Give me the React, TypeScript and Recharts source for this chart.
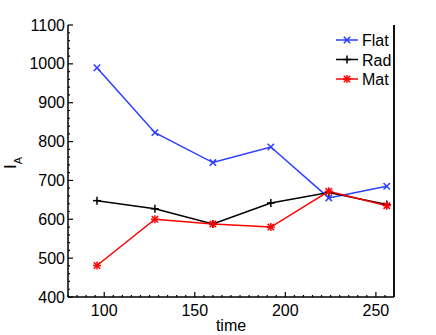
import { LineChart, Line, XAxis, YAxis, ReferenceLine } from "recharts";

const times = [96, 128, 160, 192, 224, 256];
const flat = [990, 823, 746, 786, 655, 685];
const rad = [648, 627, 588, 642, 669, 638];
const mat = [481, 600, 588, 580, 672, 635];

const xTicks: number[] = [];
for (let v = 80; v <= 260; v += 5) xTicks.push(v);
const yTicks: number[] = [];
for (let v = 400; v <= 1100; v += 20) yTicks.push(v);

const data = times.map((t, i) => ({ time: t, flat: flat[i], rad: rad[i], mat: mat[i] }));

const FONT = "'Liberation Sans', Arial, Helvetica, sans-serif";
const BLUE = "#2b3dff";
const RED = "#ff0000";
const BLACK = "#000000";

const series = [
  { key: "flat", name: "Flat", color: BLUE, marker: "x" },
  { key: "rad", name: "Rad", color: BLACK, marker: "+" },
  { key: "mat", name: "Mat", color: RED, marker: "*" },
];

const Marker = ({ cx, cy, color, kind }: any) => {
  if (cx == null || cy == null) return null;
  const s = 4;
  const d = 3.2;
  const cross = (
    <>
      <line x1={cx - d} y1={cy - d} x2={cx + d} y2={cy + d} stroke={color} strokeWidth={1.5} />
      <line x1={cx - d} y1={cy + d} x2={cx + d} y2={cy - d} stroke={color} strokeWidth={1.5} />
    </>
  );
  const plus = (
    <>
      <line x1={cx - s} y1={cy} x2={cx + s} y2={cy} stroke={color} strokeWidth={1.5} />
      <line x1={cx} y1={cy - s} x2={cx} y2={cy + s} stroke={color} strokeWidth={1.5} />
    </>
  );
  return (
    <g>
      {kind === "x" && cross}
      {kind === "+" && plus}
      {kind === "*" && (
        <>
          {cross}
          {plus}
        </>
      )}
    </g>
  );
};

const LeftTick = ({ x, y, payload }: any) => {
  const major = payload.value % 100 === 0;
  return (
    <g>
      <line x1={x} y1={y} x2={x + (major ? 5 : 2)} y2={y} stroke={BLACK} strokeWidth={1.2} />
      {major && (
        <text x={x - 3} y={y} dy={5.5} textAnchor="end" fontSize={16} fill={BLACK} fontFamily={FONT}>
          {payload.value}
        </text>
      )}
    </g>
  );
};

const RightTick = ({ x, y, payload }: any) => {
  const major = payload.value % 100 === 0;
  return <line x1={x} y1={y} x2={x - (major ? 5 : 2)} y2={y} stroke={BLACK} strokeWidth={1.2} />;
};

const BottomTick = ({ x, y, payload }: any) => {
  const major = payload.value % 50 === 0;
  return (
    <g>
      <line x1={x} y1={y} x2={x} y2={y - (major ? 5 : 2)} stroke={BLACK} strokeWidth={1.2} />
      {major && (
        <text x={x} y={y + 19} textAnchor="middle" fontSize={16} fill={BLACK} fontFamily={FONT}>
          {payload.value}
        </text>
      )}
    </g>
  );
};

const TopTick = ({ x, y, payload }: any) => {
  const major = payload.value % 50 === 0;
  return <line x1={x} y1={y} x2={x} y2={y + (major ? 5 : 2)} stroke={BLACK} strokeWidth={1.2} />;
};

const LegendBox = () => (
  <svg width={80} height={60} style={{ position: "absolute", left: 335, top: 31 }}>
    {series.map((s, i) => {
      const cy = 9 + i * 19.5;
      return (
        <g key={s.key}>
          <line x1={1} y1={cy} x2={23} y2={cy} stroke={s.color} strokeWidth={1.5} />
          <Marker cx={12} cy={cy} color={s.color} kind={s.marker} />
          <text x={27} y={cy + 6} fontSize={16} fill={BLACK} fontFamily={FONT}>
            {s.name}
          </text>
        </g>
      );
    })}
  </svg>
);

export default function App() {
  return (
    <div style={{ position: "absolute", left: 0, top: 0, width: 436, height: 335, background: "#fff" }}>
      <LineChart width={436} height={335} data={data} margin={{ top: 25, right: 41, bottom: 0, left: 0 }}>
        <XAxis
          xAxisId="b"
          dataKey="time"
          type="number"
          domain={[80, 260]}
          ticks={xTicks}
          interval={0}
          height={38}
          tickSize={0}
          tickMargin={0}
          tickLine={false}
          axisLine={{ stroke: BLACK, strokeWidth: 1.5 }}
          tick={<BottomTick />}
          label={{ value: "time", position: "insideBottom", offset: 4, fontSize: 16, fill: BLACK, fontFamily: FONT }}
        />
        <XAxis
          xAxisId="t"
          orientation="top"
          dataKey="time"
          type="number"
          domain={[80, 260]}
          ticks={xTicks}
          interval={0}
          height={0}
          tickSize={0}
          tickMargin={0}
          tickLine={false}
          axisLine={{ stroke: BLACK, strokeWidth: 1.5 }}
          tick={<TopTick />}
        />
        <YAxis
          yAxisId="l"
          type="number"
          domain={[400, 1100]}
          ticks={yTicks}
          interval={0}
          width={68}
          tickSize={0}
          tickMargin={0}
          tickLine={false}
          axisLine={{ stroke: BLACK, strokeWidth: 1.5 }}
          tick={<LeftTick />}
          label={{
            content: () => (
              <text x={16} y={163} transform="rotate(-90, 16, 163)" textAnchor="middle" fontFamily={FONT} fill={BLACK}>
                <tspan fontSize={17}>I</tspan>
                <tspan fontSize={11} dy={6}>A</tspan>
              </text>
            ),
          }}
        />
        <YAxis
          yAxisId="r"
          orientation="right"
          type="number"
          domain={[400, 1100]}
          ticks={yTicks}
          interval={0}
          width={1}
          tickSize={0}
          tickMargin={0}
          tickLine={false}
          axisLine={{ stroke: BLACK, strokeWidth: 1.5 }}
          tick={<RightTick />}
        />
        <ReferenceLine xAxisId="b" yAxisId="l" x={260} stroke={BLACK} strokeWidth={1.5} ifOverflow="visible" />
        {series.map((s) => (
          <Line
            key={s.key}
            xAxisId="b"
            yAxisId="l"
            dataKey={s.key}
            name={s.name}
            stroke={s.color}
            strokeWidth={1.5}
            isAnimationActive={false}
            dot={(p: any) => <Marker key={`${s.key}-${p.index}`} cx={p.cx} cy={p.cy} color={s.color} kind={s.marker} />}
            activeDot={false}
          />
        ))}
      </LineChart>
      <LegendBox />
    </div>
  );
}
